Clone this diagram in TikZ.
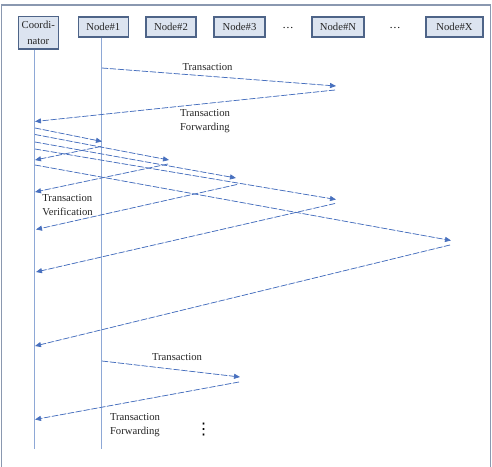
\documentclass[tikz,border=0pt]{standalone}
\usepackage{fontspec}
\setmainfont{Liberation Serif}
\newfontfamily\symfont{DejaVu Sans}
\usepackage{tikz}
\usetikzlibrary{arrows.meta}
\definecolor{framegray}{RGB}{138,152,176}
\definecolor{boxline}{RGB}{78,100,136}
\definecolor{boxfill}{RGB}{220,228,240}
\definecolor{lifeblue}{RGB}{142,168,214}
\definecolor{msgblue}{RGB}{72,112,190}
\tikzset{
  actor/.style={rectangle, draw=boxline, fill=boxfill, line width=1pt,
                minimum height=15pt, inner sep=1pt, align=center,
                font=\fontsize{8}{12}\selectfont, text=black!85},
  lifeline/.style={draw=lifeblue, line width=0.8pt},
  msg/.style={-{Triangle[length=4.5pt,width=3.8pt]}, draw=msgblue, fill=msgblue,
              line width=0.55pt, dash pattern=on 4.5pt off 1.5pt},
  lbl/.style={align=left, inner sep=0pt, font=\fontsize{8}{10.5}\selectfont, text=black!85},
}

\begin{document}
\begin{tikzpicture}[x=0.75pt, y=-0.75pt]
  \useasboundingbox (0,0) rectangle (492,467);
  \draw[framegray, line width=1pt] (1.5,5) rectangle (490.5,470);

  % participants
  \node[actor, minimum width=30pt, minimum height=24.4pt] (coord) at (38.3,32.8) {Coordi-\\nator};
  \node[actor, minimum width=37.5pt] (n1) at (103.3,27) {Node\#1};
  \node[actor, minimum width=37.5pt] (n2) at (171,27) {Node\#2};
  \node[actor, minimum width=38.2pt] (n3) at (239.5,27) {Node\#3};
  \node[font=\fontsize{8.5}{10}\selectfont] (dA) at (288,27.5) {\dots};
  \node[actor, minimum width=39pt] (nN) at (338,27) {Node\#N};
  \node[font=\fontsize{8.5}{10}\selectfont] (dB) at (395,27.5) {\dots};
  \node[actor, minimum width=42.7pt] (nX) at (454.5,27) {Node\#X};

  % lifelines
  \coordinate (cEnd) at (34.8,449);
  \coordinate (oEnd) at (101.8,449);
  \draw[lifeline] (coord.south -| cEnd) -- (cEnd);
  \draw[lifeline] (n1.south -| oEnd) -- (oEnd);

  % first transaction and forwarding
  \coordinate (tx1a) at (102,68);
  \coordinate (tx1b) at (336,86);
  \coordinate (fw1a) at (335,90);
  \coordinate (fw1b) at (35,121.5);
  \draw[msg] (tx1a) -- (tx1b);
  \draw[msg] (fw1a) -- (fw1b);
  \node[lbl] (tx1) at (207.5,67) {Transaction};
  \node[lbl] (fw1) at (205,121) {Transaction\\Forwarding};

  % verification requests
  \coordinate (o1) at (35,128);
  \coordinate (o2) at (35,134.5);
  \coordinate (o3) at (35,142);
  \coordinate (o4) at (35,149);
  \coordinate (o5) at (35,165);
  \coordinate (i1) at (102,141.5);
  \coordinate (i2) at (169,160);
  \coordinate (i3) at (236,178);
  \coordinate (i4) at (336,199.5);
  \coordinate (i5) at (451,240.5);
  \draw[msg] (o1) -- (i1);
  \draw[msg] (o2) -- (i2);
  \draw[msg] (o3) -- (i3);
  \draw[msg] (o4) -- (i4);
  \draw[msg] (o5) -- (i5);

  % verification replies
  \coordinate (r1) at (101,146.5);
  \coordinate (r2) at (168,164);
  \coordinate (r3) at (237,184.5);
  \coordinate (r4) at (335,203.5);
  \coordinate (r5) at (450,245);
  \coordinate (b1) at (35,160);
  \coordinate (b2) at (35,192);
  \coordinate (b3) at (36,229.5);
  \coordinate (b4) at (36,272);
  \coordinate (b5) at (35,346);
  \draw[msg] (r1) -- (b1);
  \draw[msg] (r2) -- (b2);
  \draw[msg] (r3) -- (b3);
  \draw[msg] (r4) -- (b4);
  \draw[msg] (r5) -- (b5);
  \node[lbl] (ver) at (67.5,205) {Transaction\\Verification};

  % next transaction
  \coordinate (tx2a) at (102,361);
  \coordinate (tx2b) at (240,377);
  \coordinate (fw2a) at (239,382);
  \coordinate (fw2b) at (35,419.5);
  \draw[msg] (tx2a) -- (tx2b);
  \draw[msg] (fw2a) -- (fw2b);
  \node[lbl] (tx2) at (177,357) {Transaction};
  \node[lbl] (fw2) at (135,425) {Transaction\\Forwarding};
  \node[font=\symfont\fontsize{12}{12}\selectfont, inner sep=0pt] (vd) at (203.5,429.5) {⋮};
\end{tikzpicture}
\end{document}
